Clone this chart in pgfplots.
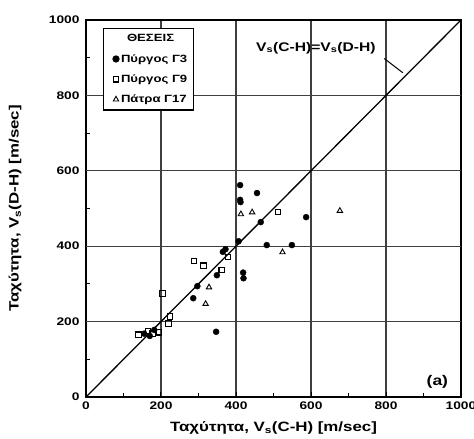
\documentclass[border=0pt]{standalone}
\usepackage{pgfplots}
\pgfplotsset{compat=1.18}
\usepackage{fontspec}
\setmainfont{Liberation Sans}[FakeStretch=1.25]
\begin{document}
\begin{tikzpicture}
\path[use as bounding box] (-86pt,-42pt) rectangle (388pt,397pt);
\begin{axis}[
  at={(0,0)}, anchor=south west,
  scale only axis, width=375pt, height=377pt,
  xmin=0, xmax=1000, ymin=0, ymax=1000,
  xtick={0,200,...,1000}, ytick={0,200,...,1000},
  minor xtick={100,300,...,900}, minor ytick={100,300,...,900},
  xtick pos=bottom, ytick pos=left,
  tick align=inside,
  major tick length=5pt, minor tick length=4pt,
  xmajorgrids=true,
  grid style={line width=1.3pt, black!75},
  axis line style={line width=1.4pt},
  tick style={line width=1pt, black},
  tick label style={font=\fontsize{11}{12}\selectfont\bfseries},
  xticklabel style={yshift=-1pt},
  yticklabel style={xshift=-3pt},
  /pgf/number format/assume math mode=true,
  /pgf/number format/1000 sep={},
  label style={font=\fontsize{13.5}{15}\selectfont\bfseries},
  xlabel={Ταχύτητα, V\textsubscript{s}(C-H) [m/sec]},
  ylabel={Ταχύτητα, V\textsubscript{s}(D-H) [m/sec]},
  xlabel style={at={(axis description cs:0.5,-0.082)}, anchor=center},
  ylabel style={at={(axis description cs:-0.189,0.5)}, anchor=center},
  legend cell align=left,
  legend style={at={(axis cs:45,979)}, anchor=north west,
    font=\fontsize{10.5}{11}\selectfont\bfseries,
    draw=black, line width=1.2pt, fill=white, inner xsep=4pt, inner ysep=4pt,
    row sep=7pt},
]
\addlegendimage{empty legend}
\addlegendentry{\hspace{6pt}ΘΕΣΕΙΣ}
\addplot[black!75, line width=1.3pt, forget plot] coordinates {(0,200) (1000,200)};
\addplot[black!75, line width=1.3pt, forget plot] coordinates {(0,400) (1000,400)};
\addplot[black!75, line width=1.3pt, forget plot] coordinates {(0,600) (1000,600)};
\addplot[black!75, line width=1.3pt, forget plot] coordinates {(0,800) (1000,800)};
\addplot[black, line width=1.3pt, forget plot] coordinates {(0,0) (1000,1000)};
\addplot[only marks, mark=*, mark size=3pt, black] coordinates {
(411,562) (411,523) (412,517) (456,541) (466,464) (587,477) (407,413)
(372,392) (365,385) (482,403) (549,403) (419,330) (420,315) (349,323)
(297,294) (286,262) (347,173) (155,168) (170,162) (182,178)
};
\addlegendentry{Πύργος Γ3}
\addplot[only marks, mark=square, mark size=2.8pt, black, mark options={line width=1.1pt, fill=white}] coordinates {
(512,491) (288,361) (313,348) (379,371) (362,337) (204,275) (224,213) (220,195)
(140,165) (165,175) (195,172) (178,168)
};
\addlegendentry{Πύργος Γ9}
\addplot[only marks, mark=triangle, mark size=3.1pt, black, mark options={line width=0.9pt, fill=white}] coordinates {
(677,494) (413,485) (443,490) (524,384) (328,291) (319,247)
};
\addlegendentry{Πάτρα Γ17}
\node[font=\fontsize{12.5}{13}\selectfont\bfseries] at (axis cs:613,926) {V\textsubscript{s}(C-H)=V\textsubscript{s}(D-H)};
\draw[line width=1pt] (axis cs:795,898) -- (axis cs:845,860);
\node[font=\fontsize{14}{15}\selectfont\bfseries] at (axis cs:937,40) {(a)};
\end{axis}
\end{tikzpicture}
\end{document}
